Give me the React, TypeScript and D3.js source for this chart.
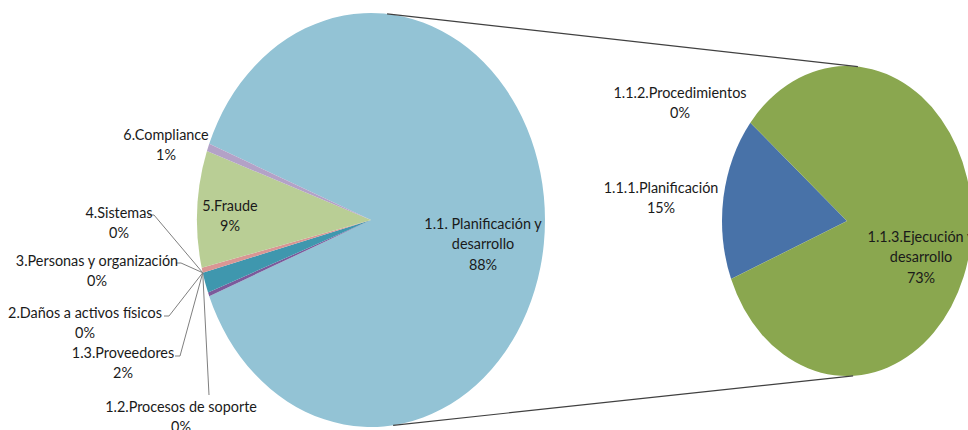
import React from "react";
import * as d3 from "d3";

// ---------- data ----------
const mainCategories = [
  "1.1. Planificación y\ndesarrollo",
  "1.2.Procesos de soporte",
  "1.3.Proveedores",
  "2.Daños a activos físicos",
  "3.Personas y organización",
  "4.Sistemas",
  "5.Fraude",
  "6.Compliance",
];
const mainValues = [88, 0.3, 1.6, 0, 0.4, 0, 9.1, 0.6];
const mainColors = ["#93C3D5", "#7B5A9B", "#3F97AE", "#A5A5A5", "#D99694", "#F9B37D", "#B9CE95", "#B3A2C7"];

const subCategories = ["1.1.1.Planificación", "1.1.2.Procedimientos", "1.1.3.Ejecución y\ndesarrollo"];
const subValues = [15, 0, 73];
const subColors = ["#4872A8", "#C0504D", "#8AA74F"];

// ---------- layout ----------
const W = 968;
const H = 430;
const M = { cx: 371, cy: 220, rx: 174, ry: 207 };
const S = { cx: 847, cy: 221, rx: 125, ry: 155 };
const deg = Math.PI / 180;
const LINE_H = 20.5;
const FONT = 16;
const SX = 0.9;

// label anchors (center x, first baseline y) and leader polylines start
const mainLabelPos = [
  { x: 483, y: 229 },
  { x: 181, y: 412, lead: [[209, 395]] },
  { x: 123, y: 358, lead: [[175, 356], [180, 356]] },
  { x: 85, y: 318, lead: [[164, 316], [169, 316]] },
  { x: 97, y: 266, lead: [[176, 263], [181, 263]] },
  { x: 119, y: 218, lead: [[148, 215], [154, 215]] },
  { x: 230, y: 211 },
  { x: 166, y: 140 },
];
const subLabelPos = [
  { x: 661, y: 193 },
  { x: 680, y: 98 },
  { x: 921, y: 242 },
];

function ellipsePoint(c: typeof M, a: number): [number, number] {
  return [c.cx + c.rx * Math.sin(a), c.cy - c.ry * Math.cos(a)];
}

function Label({ x, y, text }: { x: number; y: number; text: string[] }) {
  return (
    <g transform={`translate(${x},${y}) scale(${SX},1)`}>
      {text.map((t, i) => (
        <text
          key={i}
          x={0}
          y={i * LINE_H}
          textAnchor="middle"
          fontFamily="Lato, 'Open Sans', sans-serif"
          fontSize={FONT}
          fill="#1a1a1a"
        >
          {t}
        </text>
      ))}
    </g>
  );
}

export default function App() {
  const mainTotal = d3.sum(mainValues);
  const otherShare = mainValues[0] / mainTotal;
  const mainStart = Math.PI / 2 - otherShare * Math.PI;
  const mainPie = d3
    .pie<number>()
    .sort(null)
    .startAngle(mainStart)
    .endAngle(mainStart + 2 * Math.PI)(mainValues);

  const subStart = 248 * deg;
  const subPie = d3
    .pie<number>()
    .sort(null)
    .startAngle(subStart)
    .endAngle(subStart + 2 * Math.PI)(subValues);

  const mainArc = d3.arc<d3.PieArcDatum<number>>().innerRadius(0).outerRadius(M.rx);
  const subArc = d3.arc<d3.PieArcDatum<number>>().innerRadius(0).outerRadius(S.rx);

  const pct = (v: number, total: number) => `${Math.round((v / total) * 100)}%`;

  // leader target: outer edge at start of slice "3.Personas"
  const target = ellipsePoint(M, mainPie[4].startAngle);

  // connector lines between pies
  const topA = ellipsePoint(M, 5.3 * deg);
  const topB = ellipsePoint(S, 5 * deg);
  const botA = ellipsePoint(M, 172.7 * deg);
  const botB = ellipsePoint(S, 177.2 * deg);

  return (
    <svg
      width={W}
      height={H}
      style={{ position: "absolute", left: 0, top: 0, background: "#fff" }}
    >
      <g transform={`translate(${M.cx},${M.cy}) scale(1,${M.ry / M.rx})`}>
        {mainPie.map((d, i) => (
          <path key={i} d={mainArc(d) || ""} fill={mainColors[i]} />
        ))}
      </g>
      <g transform={`translate(${S.cx},${S.cy}) scale(1,${S.ry / S.rx})`}>
        {subPie.map((d, i) => (
          <path key={i} d={subArc(d) || ""} fill={subColors[i]} />
        ))}
      </g>

      <line x1={topA[0]} y1={topA[1]} x2={topB[0]} y2={topB[1]} stroke="#404040" strokeWidth={1.2} />
      <line x1={botA[0]} y1={botA[1]} x2={botB[0]} y2={botB[1]} stroke="#404040" strokeWidth={1.2} />

      {mainLabelPos.map((p, i) =>
        p.lead ? (
          <polyline
            key={"l" + i}
            points={[...p.lead, target].map((q) => q.join(",")).join(" ")}
            fill="none"
            stroke="#7f7f7f"
            strokeWidth={1}
          />
        ) : null
      )}

      {mainLabelPos.map((p, i) => (
        <Label
          key={"m" + i}
          x={p.x}
          y={p.y}
          text={[...mainCategories[i].split("\n"), pct(mainValues[i], mainTotal)]}
        />
      ))}
      {subLabelPos.map((p, i) => (
        <Label
          key={"s" + i}
          x={p.x}
          y={p.y}
          text={[...subCategories[i].split("\n"), pct(subValues[i], mainTotal)]}
        />
      ))}
    </svg>
  );
}
